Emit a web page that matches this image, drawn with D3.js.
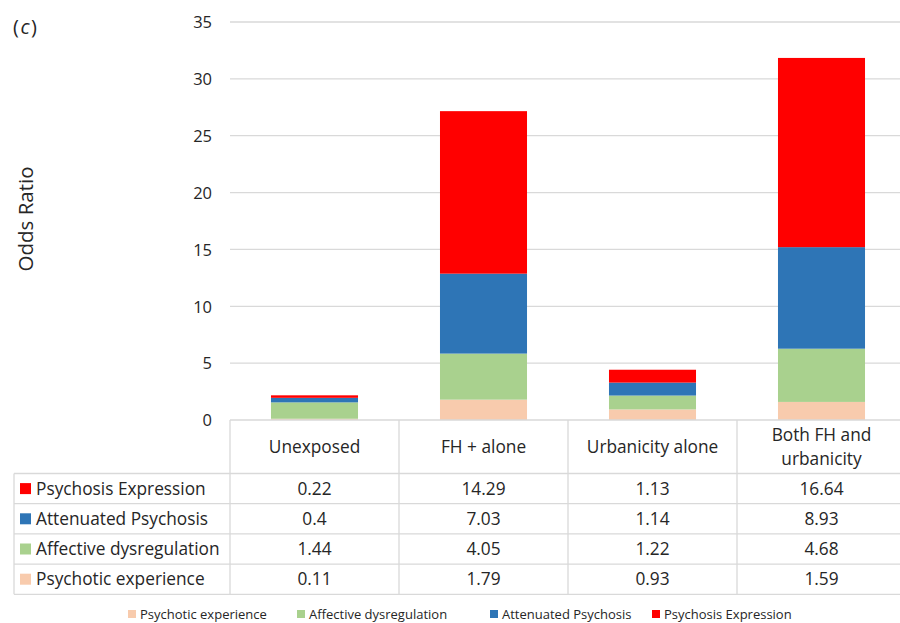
<!DOCTYPE html>
<html>
<head>
<meta charset="utf-8">
<script src="https://cdn.jsdelivr.net/npm/d3@7"></script>
<style>
  html, body { margin: 0; padding: 0; background: #fff; }
  svg { display: block; font-family: "Open Sans", sans-serif; }
</style>
</head>
<body>
<div id="chart"></div>
<script>
(function() {
    'use strict';

    // Categories (table columns)
    var categories = ['Unexposed', 'FH + alone', 'Urbanicity alone', 'Both FH and urbanicity'];
    var headerLines = [['Unexposed'], ['FH + alone'], ['Urbanicity alone'], ['Both FH and', 'urbanicity']];

    // Series, bottom of stack first
    var seriesNames = ['Psychotic experience', 'Affective dysregulation', 'Attenuated Psychosis', 'Psychosis Expression'];
    var seriesColors = ['#F8CBAD', '#A9D18E', '#2E75B6', '#FF0000'];

    var psychoticExperience = [0.11, 1.79, 0.93, 1.59];
    var affectiveDysregulation = [1.44, 4.05, 1.22, 4.68];
    var attenuatedPsychosis = [0.4, 7.03, 1.14, 8.93];
    var psychosisExpression = [0.22, 14.29, 1.13, 16.64];

    var yTicks = [0, 5, 10, 15, 20, 25, 30, 35];

    var seriesValues = [psychoticExperience, affectiveDysregulation, attenuatedPsychosis, psychosisExpression];

    var width = 900, height = 623;
    var plot = { left: 230, right: 906, top: 22, bottom: 420 };
    var gridColor = '#d9d9d9';
    var textColor = '#262626';
    var tableFont = 17.3;

    var svg = d3.select('#chart').append('svg')
        .attr('width', width)
        .attr('height', height)
        .attr('viewBox', [0, 0, width, height].join(' '));

    var x = d3.scaleBand().domain(categories).range([plot.left, plot.right]).paddingInner(0).paddingOuter(0);
    var y = d3.scaleLinear().domain([0, 35]).range([plot.bottom, plot.top]);

    // Panel label
    var pl = svg.append('text')
        .attr('x', 13).attr('y', 34)
        .style('font-size', '20px').attr('fill', textColor);
    pl.append('tspan').text('(');
    pl.append('tspan').attr('font-style', 'italic').attr('dx', 1.5).text('c');
    pl.append('tspan').attr('dx', 1.5).text(')');

    // Y grid
    svg.append('g')
        .selectAll('line')
        .data(yTicks.filter(function(t) { return t > 0; }))
        .join('line')
        .attr('x1', plot.left).attr('x2', plot.right)
        .attr('y1', function(d) { return y(d); })
        .attr('y2', function(d) { return y(d); })
        .attr('stroke', gridColor).attr('stroke-width', 1.3);

    // Y axis labels
    var yAxis = d3.axisLeft(y).tickValues(yTicks).tickSize(0).tickPadding(0);
    var yg = svg.append('g')
        .attr('transform', 'translate(' + (plot.left - 18) + ',0)')
        .call(yAxis);
    yg.select('.domain').remove();
    yg.selectAll('text')
        .attr('font-size', 16.5)
        .attr('font-family', '"Open Sans", sans-serif')
        .attr('fill', textColor)
        .attr('dy', '0.35em');

    // Y title
    svg.append('text')
        .attr('transform', 'translate(33,219) rotate(-90)')
        .attr('text-anchor', 'middle')
        .attr('font-size', 20.5)
        .attr('fill', textColor)
        .text('Odds Ratio');

    // Stacked bars
    var rows = categories.map(function(c, i) {
        var r = { category: c };
        seriesNames.forEach(function(s, k) { r[s] = seriesValues[k][i]; });
        return r;
    });
    var stacked = d3.stack().keys(seriesNames)(rows);
    var barW = x.bandwidth() * 0.515;

    svg.append('g')
        .selectAll('g')
        .data(stacked)
        .join('g')
        .attr('fill', function(d, i) { return seriesColors[i]; })
        .selectAll('rect')
        .data(function(d) { return d; })
        .join('rect')
        .attr('x', function(d) { return x(d.data.category) + (x.bandwidth() - barW) / 2; })
        .attr('width', barW)
        .attr('y', function(d) { return y(d[1]); })
        .attr('height', function(d) { return y(d[0]) - y(d[1]); });

    // Data table
    var tableLeft = 14;
    var headerBottom = 473.5;
    var rowH = 30.2;
    var tableBottom = headerBottom + rowH * 4;
    var tg = svg.append('g').attr('stroke', gridColor).attr('stroke-width', 1.3);

    tg.append('line').attr('x1', plot.left).attr('x2', plot.right).attr('y1', plot.bottom).attr('y2', plot.bottom);
    d3.range(5).forEach(function(k) {
        var yy = headerBottom + k * rowH;
        tg.append('line').attr('x1', tableLeft).attr('x2', plot.right).attr('y1', yy).attr('y2', yy);
    });
    tg.append('line').attr('x1', tableLeft).attr('x2', tableLeft).attr('y1', headerBottom).attr('y2', tableBottom);
    categories.forEach(function(c) {
        var xx = x(c);
        tg.append('line').attr('x1', xx).attr('x2', xx).attr('y1', plot.bottom).attr('y2', tableBottom);
    });

    // header labels
    categories.forEach(function(c, i) {
        var lines = headerLines[i];
        var cy = (plot.bottom + headerBottom) / 2;
        var lh = 24;
        lines.forEach(function(l, j) {
            svg.append('text')
                .attr('x', x(c) + x.bandwidth() / 2)
                .attr('y', cy + (j - (lines.length - 1) / 2) * lh)
                .attr('dy', '0.35em')
                .attr('text-anchor', 'middle')
                .attr('font-size', tableFont)
                .attr('fill', textColor)
                .text(l);
        });
    });

    // table rows: top row is the top of the stack
    var tableOrder = [3, 2, 1, 0];
    tableOrder.forEach(function(k, r) {
        var cy = headerBottom + r * rowH + rowH / 2;
        svg.append('rect')
            .attr('x', 20).attr('y', cy - 5.5)
            .attr('width', 11).attr('height', 11)
            .attr('fill', seriesColors[k]);
        svg.append('text')
            .attr('x', 36).attr('y', cy).attr('dy', '0.35em')
            .attr('font-size', tableFont).attr('fill', textColor)
            .text(seriesNames[k]);
        categories.forEach(function(c, i) {
            svg.append('text')
                .attr('x', x(c) + x.bandwidth() / 2)
                .attr('y', cy).attr('dy', '0.35em')
                .attr('text-anchor', 'middle')
                .attr('font-size', tableFont).attr('fill', textColor)
                .text(seriesValues[k][i]);
        });
    });

    // Bottom legend
    var legendX = [128, 297, 490, 652];
    var legendY = 614;
    seriesNames.forEach(function(s, k) {
        svg.append('rect')
            .attr('x', legendX[k]).attr('y', legendY - 4)
            .attr('width', 8).attr('height', 8)
            .attr('fill', seriesColors[k]);
        svg.append('text')
            .attr('x', legendX[k] + 12).attr('y', legendY).attr('dy', '0.35em')
            .attr('font-size', 13).attr('fill', textColor)
            .text(s);
    });
})();
</script>
</body>
</html>
